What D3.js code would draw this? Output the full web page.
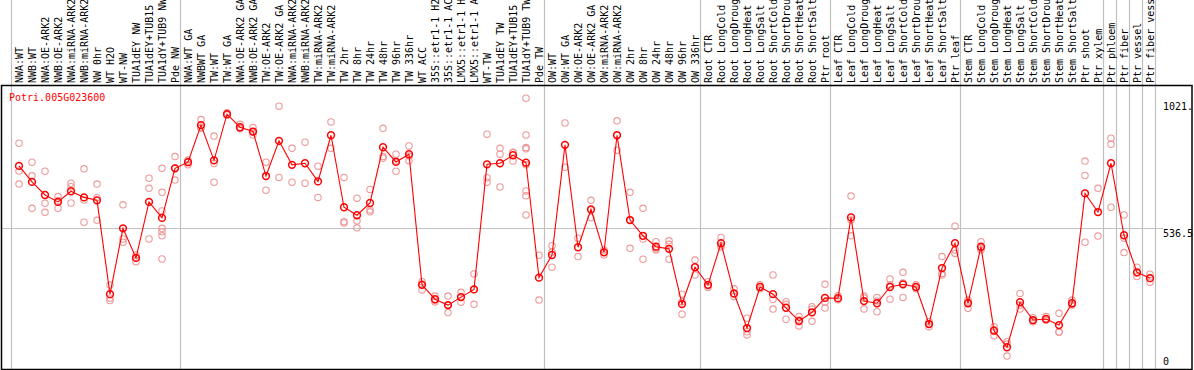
<!DOCTYPE html>
<html>
<head>
<meta charset="utf-8">
<script src="https://cdn.jsdelivr.net/npm/d3@7"></script>
<style>
html,body{margin:0;padding:0;background:#fff;}
svg{display:block;}
text{font-family:"DejaVu Sans Mono",monospace;font-size:10px;}
</style>
</head>
<body>
<script>
const geneName = "Potri.005G023600";

const labels = [
"NWA:WT","NWB:WT","NWA:OE-ARK2","NWB:OE-ARK2","NWA:miRNA-ARK2","NWB:miRNA-ARK2","NW 0hr","WT H2O","WT-NW","TUA1dEY NW","TUA1dEY+TUB15","TUA1dY+TUB9 NW","Pde NW",
"NWA:WT GA","NWBWT GA","TW:WT","TW:WT GA","NWA:OE-ARK2 GA","NWB:OE-ARK2 GA","TW:OE-ARK2","TW:OE-ARK2 GA","NWA:miRNA-ARK2","NWB:miRNA-ARK2","TW:miRNA-ARK2","TW:miRNA-ARK2","TW 2hr","TW 8hr","TW 24hr","TW 48hr","TW 96hr","TW 336hr","WT ACC","35S::etr1-1 H2O","35S::etr1-1 ACC","LMX5::etr1-1 H2O","LMX5::etr1-1 ACC","WT-TW","TUA1dEY TW","TUA1dEY+TUB15","TUA1dY+TUB9 TW","Pde TW",
"OW:WT","OW:WT GA","OW:OE-ARK2","OW:OE-ARK2 GA","OW:miRNA-ARK2","OW:miRNA-ARK2","OW 2hr","OW 8hr","OW 24hr","OW 48hr","OW 96hr","OW 336hr",
"Root CTR","Root LongCold","Root LongDrought","Root LongHeat","Root LongSalt","Root ShortCold","Root ShortDrought","Root ShortHeat","Root ShortSalt","Ptr root",
"Leaf CTR","Leaf LongCold","Leaf LongDrought","Leaf LongHeat","Leaf LongSalt","Leaf ShortCold","Leaf ShortDrought","Leaf ShortHeat","Leaf ShortSalt","Ptr leaf",
"Stem CTR","Stem LongCold","Stem LongDrought","Stem LongHeat","Stem LongSalt","Stem ShortCold","Stem ShortDrought","Stem ShortHeat","Stem ShortSalt","Ptr shoot","Ptr xylem",
"Ptr phloem","Ptr fiber","Ptr vessel","Ptr fiber vessel"];

// index of the first column of each group (last entry = end)
const groupStarts = [0, 13, 41, 53, 63, 73, 84, 85, 86, 87, 88];

const means = [768,708,659,633,673,650,639,287,534,423,
633,573,759,782,921,789,962,913,897,730,
862,772,778,710,883,613,583,629,838,783,
812,322,268,246,276,305,774,778,808,780,
349,434,847,463,605,444,883,565,506,465,
457,250,388,322,478,290,160,314,287,236,
186,219,273,272,575,261,253,314,324,314,
175,385,478,253,465,150,88,257,190,194,
171,253,665,595,778,508,369,347];

const replicates = [
[853,749,700],[782,731,609],[748,628,594],[653,637,609],[703,690,629],
[757,640,557],[700,649,564],[321,272,263],[622,494,482],[434,423,409],
[722,684,494],[759,669,599,534,521,506,419],[803,760,715],[790,783,772],[942,913,909],
[880,777,707],[967,960,959],[924,909,907],[912,895,884],[782,677],
[992,725],[834,707],[857,703],[767,650],[933,834],
[725,559,554],[647,562,536],[680,603,596],[909,803,797],[812,787,748],
[843,805,787],[334,325,303],[280,265,258],[280,246,218],[294,276,257],
[363,305,249],[887,724,707],[834,812,689],[819,818,786],[1021.9,884,837,832,772,674,656,584],
[433,265],[469,445,388],[929,763],[497,428],[639,603,574],
[453,444,434],[937,884,827],[669,565,459],[609,494,418],[484,457,453],
[487,474,418],[287,259,212],[415,389,359],[334,319,312],[500,469,464],
[307,288,278],[197,146,134],[322,314,307],[359,268,231],[259,249,193],
[203,190,168],[240,231,185],[324,257,235],[281,268,266],[655,565,506],
[280,273,231],[275,261,221],[344,321,268],[369,329,275],[322,314,307],
[184,175,165],[428,365,359],[542,453,440],[265,258,234],[484,459,453],
[165,153,131],[109,100,55],[290,246,231],[199,188,184],[203,190,189],
[215,146,144],[265,247,246],[786,732,482],[684,505],[872,849,613],
[584,497,443],[388,367,353],[362,346,332]
];

const yMax = 1073;
const tickValues = [1021.9, 536.5, 0];
const tickLabels = ["1021.", "536.5", "0"];
const gridValues = [536.5];

const W = 1194, H = 370;
const svg = d3.select("body").append("svg").attr("width", W).attr("height", H);

const x = d3.scaleLinear().domain([0, labels.length - 1]).range([19, 1150]);
const y = d3.scaleLinear().domain([0, yMax]).range([370.7, 84.6]);

const plotTop = 85, plotBottom = 369;

// vertical group separators (through label area too)
svg.append("g").selectAll("line").data(groupStarts).join("line")
  .attr("x1", d => Math.round(x(d - 0.6)) + 0.5)
  .attr("x2", d => Math.round(x(d - 0.6)) + 0.5)
  .attr("y1", 0).attr("y2", plotBottom)
  .attr("stroke", "#c0c0c0").attr("stroke-width", 1.2);

// horizontal grid
svg.append("g").selectAll("line").data(gridValues).join("line")
  .attr("x1", 1).attr("x2", 1163)
  .attr("y1", d => Math.round(y(d)) + 0.5).attr("y2", d => Math.round(y(d)) + 0.5)
  .attr("stroke", "#c0c0c0").attr("stroke-width", 1.2);

// frame
svg.append("rect").attr("x", 1.5).attr("y", plotTop + 0.5)
  .attr("width", 1192 - 1.5).attr("height", plotBottom - plotTop)
  .attr("fill", "none").attr("stroke", "#000").attr("stroke-width", 1.5);

// column labels
svg.append("g").selectAll("text").data(labels).join("text")
  .attr("transform", (d, i) => `translate(${x(i) + 4},83) rotate(-90)`)
  .attr("fill", "#000")
  .text(d => d);

// y tick labels
svg.append("g").selectAll("text").data(tickValues).join("text")
  .attr("x", 1163)
  .attr("y", d => Math.max(106.5, Math.min(361.5, y(d) + 6)))
  .attr("dominant-baseline", "central")
  .attr("fill", "#000")
  .text((d, i) => tickLabels[i]);

// gene name
svg.append("text").attr("x", 9).attr("y", 97.5)
  .attr("dominant-baseline", "central")
  .attr("fill", "#ff0000").text(geneName);

// replicates
const repPts = [];
replicates.forEach((arr, i) => arr.forEach(v => repPts.push({i, v})));
svg.append("g").selectAll("circle").data(repPts).join("circle")
  .attr("cx", d => x(d.i)).attr("cy", d => y(d.v)).attr("r", 3.2)
  .attr("fill", "none").attr("stroke", "#ec9a9a").attr("stroke-width", 1.1);

// mean line
svg.append("path").datum(means)
  .attr("d", d3.line().x((d, i) => x(i)).y(d => y(d)))
  .attr("fill", "none").attr("stroke", "#ff0000").attr("stroke-width", 1.1);

// mean circles
svg.append("g").selectAll("circle").data(means).join("circle")
  .attr("cx", (d, i) => x(i)).attr("cy", d => y(d)).attr("r", 3.4)
  .attr("fill", "none").attr("stroke", "#ff0000").attr("stroke-width", 1.5);
</script>
</body>
</html>
